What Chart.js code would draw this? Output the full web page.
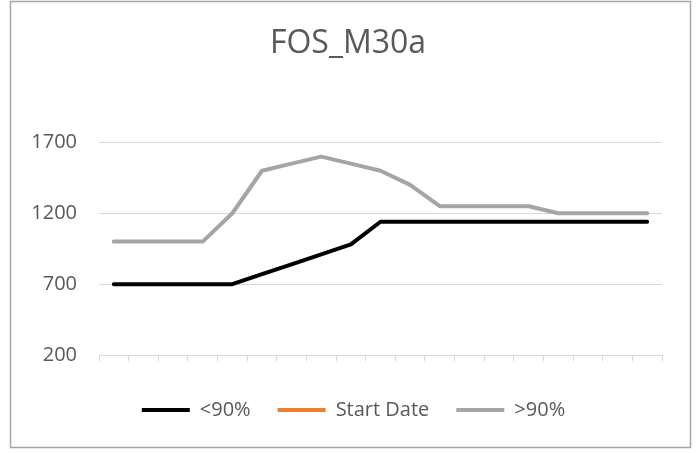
<!DOCTYPE html>
<html>
<head>
<meta charset="utf-8">
<script src="https://cdn.jsdelivr.net/npm/chart.js@4/dist/chart.umd.min.js"></script>
<style>
  html, body { margin: 0; padding: 0; background: #ffffff; }
  #wrap { width: 697px; height: 453px; position: relative; }
</style>
</head>
<body>
<div id="wrap"><canvas id="chart"></canvas></div>
<script>
// ── Data ───────────────────────────────────────────────────────────────────────
const CATEGORIES = ['1', '2', '3', '4', '5', '6', '7', '8', '9', '10',
                    '11', '12', '13', '14', '15', '16', '17', '18', '19'];

const BELOW_90 = [700, 700, 700, 700, 700, 770, 840, 910, 980, 1140,
                  1140, 1140, 1140, 1140, 1140, 1140, 1140, 1140, 1140];

const START_DATE = CATEGORIES.map(() => null);   // series present, nothing plotted

const ABOVE_90 = [1000, 1000, 1000, 1000, 1200, 1500, 1550, 1600, 1550, 1500,
                  1400, 1250, 1250, 1250, 1250, 1200, 1200, 1200, 1200];

const Y_MIN  = 200;
const Y_MAX  = 1700;
const Y_STEP = 500;

// ── Style ──────────────────────────────────────────────────────────────────────
const FONT      = '"Open Sans", "Noto Sans", sans-serif';
const TEXT_GREY = '#595959';
const GRID_GREY = '#d9d9d9';

// white background + thin grey chart frame
const framePlugin = {
  id: 'frame',
  beforeDraw(chart) {
    const { ctx, width, height } = chart;
    ctx.save();
    ctx.fillStyle = '#ffffff';
    ctx.fillRect(0, 0, width, height);
    ctx.strokeStyle = '#a6a6a6';
    ctx.lineWidth = 1.5;
    ctx.strokeRect(10.5, 1.5, 680, 446);
    ctx.restore();
  }
};

// title and legend are centred on the whole frame, not on the space right of the y labels
const centerPlugin = {
  id: 'centerBlocks',
  afterLayout(chart) {
    if (chart.titleBlock) chart.titleBlock.left += 14;
    if (chart.legend)     chart.legend.left     += 25;
  }
};

const line = (label, data, color) => ({
  label,
  data,
  borderColor:     color,
  backgroundColor: color,
  borderWidth:     4,
  borderCapStyle:  'round',
  borderJoinStyle: 'round',
  pointRadius:     0,
  tension:         0,
  fill:            false
});

new Chart(document.getElementById('chart'), {
  type: 'line',
  data: {
    labels: CATEGORIES,
    datasets: [
      line('<90%', BELOW_90, '#000000'),
      line('Start Date', START_DATE, '#ed7d31'),
      line('>90%', ABOVE_90, '#a5a5a5')
    ]
  },
  plugins: [framePlugin, centerPlugin],
  options: {
    responsive:          true,
    maintainAspectRatio: false,
    animation:           false,
    layout: { padding: { top: 25, right: 35, bottom: 23, left: 20 } },
    scales: {
      x: {
        offset: true,
        afterFit: (s) => { s.height = 18; },
        ticks:  { display: false },
        grid: {
          offset:          true,
          drawOnChartArea: false,
          drawTicks:       true,
          tickLength:      6,
          color:           GRID_GREY
        },
        border: { display: true, color: GRID_GREY }
      },
      y: {
        min: Y_MIN,
        max: Y_MAX,
        afterFit: (s) => { s.width = 79; },
        ticks: {
          stepSize: Y_STEP,
          padding:  22,
          color:    TEXT_GREY,
          font:     { family: FONT, size: 20 },
          callback: (val) => String(val)
        },
        grid:   { color: GRID_GREY, drawTicks: false },
        border: { display: false }
      }
    },
    plugins: {
      title: {
        display: true,
        text:    'FOS_M30a',
        color:   TEXT_GREY,
        font:    { family: FONT, size: 32, weight: 'normal' },
        padding: { top: 0, bottom: 79 }
      },
      legend: {
        position: 'bottom',
        labels: {
          color:     TEXT_GREY,
          font:      { family: FONT, size: 20 },
          boxWidth:  48,
          boxHeight: 4,
          padding:   27,
          generateLabels: (chart) =>
            Chart.defaults.plugins.legend.labels.generateLabels(chart)
              .map(item => ({ ...item, fillStyle: item.strokeStyle, lineWidth: 0 }))
        }
      },
      tooltip: { enabled: false }
    }
  }
});
</script>
</body>
</html>
